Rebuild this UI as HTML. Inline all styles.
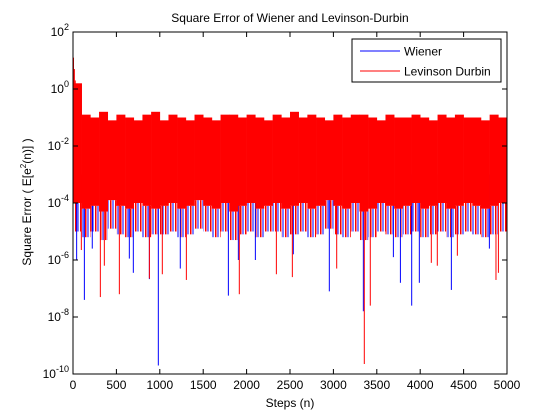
<!DOCTYPE html>
<html><head><meta charset="utf-8"><style>
body{margin:0;background:#fff;}
svg{display:block;font-family:"Liberation Sans",Arial,sans-serif;}
</style></head><body>
<svg id="chart" width="560" height="420">
<defs>
<pattern id="stripes" width="5" height="10" patternUnits="userSpaceOnUse">
<rect x="0" y="0" width="1.5" height="10" fill="#ff0000"/>
<rect x="2.5" y="0" width="1" height="10" fill="#0000ff"/>
</pattern>
</defs>
<rect width="560" height="420" fill="#fff"/>
<text x="290" y="22" font-size="12" text-anchor="middle">Square Error of Wiener and Levinson-Durbin</text>
<text x="290" y="407" font-size="12" text-anchor="middle">Steps (n)</text>
<text transform="translate(31,202) rotate(-90)" font-size="12" text-anchor="middle">Square Error ( E[e<tspan font-size="8" dy="-5">2</tspan><tspan dy="5">(n)] )</tspan></text>
<g id="marks"></g>
<g id="axes"></g>
<g>
<rect x="352" y="39" width="149" height="43" fill="#fff" stroke="#000"/>
<line x1="360" y1="51" x2="400" y2="51" stroke="#0000ff"/>
<text x="404" y="55.5" font-size="12">Wiener</text>
<line x1="360" y1="71" x2="400" y2="71" stroke="#ff0000"/>
<text x="404" y="75.5" font-size="12">Levinson Durbin</text>
</g>
</svg>
<script>
// bins of 100 steps: log10 of band top / core bottom
const binStarts = [0,100,200,300,400,500,600,700,800,900,1000,1100,1200,1300,1400,1500,1600,1700,1800,1900,2000,2100,2200,2300,2400,2500,2600,2700,2800,2900,3000,3100,3200,3300,3400,3500,3600,3700,3800,3900,4000,4100,4200,4300,4400,4500,4600,4700,4800,4900];
const redTop = [0.2,-0.9,-1.0,-0.8,-1.1,-0.9,-1.0,-1.1,-0.9,-0.8,-1.1,-0.9,-1.0,-1.1,-0.9,-1.0,-1.1,-0.9,-0.9,-1.0,-0.9,-1.0,-1.1,-0.9,-1.0,-0.8,-1.0,-0.9,-1.0,-1.1,-0.9,-1.0,-0.9,-0.9,-1.0,-1.1,-0.9,-1.0,-1.0,-0.9,-1.0,-1.1,-0.9,-1.0,-0.9,-1.0,-1.0,-1.1,-0.9,-1.0];
const coreLow = [-3.0,-3.3,-3.2,-3.4,-3.1,-3.3,-3.2,-3.3,-3.2,-3.1,-3.3,-3.2,-3.3,-3.2,-3.1,-3.2,-3.3,-3.2,-3.3,-3.1,-3.2,-3.3,-3.2,-3.3,-3.1,-3.2,-3.3,-3.2,-3.2,-3.3,-3.2,-3.1,-3.2,-3.3,-3.2,-3.3,-3.2,-3.1,-3.3,-3.2,-3.3,-3.2,-3.2,-3.3,-3.1,-3.2,-3.3,-3.2,-3.2,-3.3];
const fringeLow = [-4.0,-4.2,-4.1,-4.3,-3.9,-4.1,-4.2,-4.0,-4.1,-4.2,-4.1,-4.0,-4.2,-4.1,-3.9,-4.1,-4.2,-4.0,-4.3,-4.1,-4.0,-4.2,-4.1,-4.0,-4.2,-4.1,-4.0,-4.2,-4.1,-3.9,-4.1,-4.2,-4.0,-4.3,-4.2,-4.0,-4.1,-4.2,-4.1,-4.0,-4.2,-4.1,-4.0,-4.2,-4.1,-4.0,-4.1,-4.2,-4.1,-4.0];
const sparseLow = [-5.0,-5.2,-5.0,-5.3,-4.9,-5.1,-5.2,-5.0,-5.2,-5.1,-5.1,-5.0,-5.2,-5.1,-4.9,-5.0,-5.2,-5.0,-5.3,-5.1,-5.0,-5.2,-5.0,-5.0,-5.2,-5.1,-5.0,-5.2,-5.1,-4.9,-5.1,-5.2,-5.0,-5.3,-5.2,-5.0,-5.1,-5.2,-5.1,-5.0,-5.2,-5.1,-5.0,-5.2,-5.1,-5.0,-5.1,-5.2,-5.1,-5.0];
// deep individual spikes (step, log10 value)
const blueSpikeSteps = [42,131,222,649,695,880,983,1236,1790,1905,2101,2538,2953,3345,3691,3772,3902,3990,4359,4797];
const blueSpikeVals = [-6.0,-7.4,-5.6,-5.95,-6.45,-6.67,-9.7,-6.3,-7.25,-6.0,-6.0,-5.8,-7.1,-7.8,-5.9,-6.8,-7.6,-6.8,-7.05,-5.6];
const redSpikeSteps = [96,315,361,534,880,1029,1306,1916,2343,2527,3038,3356,3425,4128,4197,4428,4873,4901];
const redSpikeVals = [-5.65,-7.3,-6.2,-7.2,-6.65,-6.5,-6.7,-7.2,-6.5,-6.6,-6.3,-9.65,-7.6,-6.1,-6.2,-5.85,-6.7,-6.45];
const initSteps=[0,10,20,30,40,60,80];
const initVals=[1.1,0.7,0.3,0.0,-0.3,-0.6,-0.8];
const xTicks = [0,500,1000,1500,2000,2500,3000,3500,4000,4500,5000];
const yTickExps = [2,0,-2,-4,-6,-8,-10];

const L=73,R=507,T=32,B=374;
const sx = s => L + s/5000*(R-L);
const sy = e => T + (2-e)/12*(B-T);
const NS='http://www.w3.org/2000/svg';
const marks=document.getElementById('marks'), axes=document.getElementById('axes');
function mk(tag,attrs,parent){const el=document.createElementNS(NS,tag);for(const k in attrs)el.setAttribute(k,attrs[k]);parent.appendChild(el);return el;}

binStarts.forEach((s,i)=>{
  const x0=sx(s), x1=sx(s+100);
  const r=mk('rect',{x:x0,y:sy(fringeLow[i]),width:x1-x0,height:sy(sparseLow[i])-sy(fringeLow[i]),fill:'url(#stripes)'},marks);
  
  
});
blueSpikeSteps.forEach((s,i)=>{
  const l=mk('line',{x1:sx(s),x2:sx(s),y1:sy(-3),y2:sy(blueSpikeVals[i]),stroke:'#0000ff','stroke-width':1},marks);
  
  
});
redSpikeSteps.forEach((s,i)=>{
  const l=mk('line',{x1:sx(s),x2:sx(s),y1:sy(-3),y2:sy(redSpikeVals[i]),stroke:'#ff0000','stroke-width':1},marks);
  
  
});
binStarts.forEach((s,i)=>{
  const x0=sx(s), x1=sx(s+100);
  const r=mk('rect',{x:x0,y:sy(redTop[i]),width:x1-x0+0.3,height:sy(fringeLow[i])-sy(redTop[i]),fill:'#ff0000'},marks);
  
  
});
initSteps.forEach((s,i)=>{
  const r=mk('rect',{x:sx(s),y:sy(initVals[i]),width:Math.max(1,sx(s+10)-sx(s)),height:sy(-2)-sy(initVals[i]),fill:'#ff0000'},marks);
  
  
});

const box=mk('rect',{x:L,y:T,width:R-L,height:B-T,fill:'none',stroke:'#000'},axes);


xTicks.forEach(v=>{
  const x=sx(v);
  const t=mk('path',{d:`M${x},${B}v-5M${x},${T}v5`,stroke:'#000'},axes);
  
  
  const lb=mk('text',{x:x,y:B+15,'font-size':12,'text-anchor':'middle'},axes);
  lb.textContent=v;
  
  
});
yTickExps.forEach(e=>{
  const y=sy(e);
  const t=mk('path',{d:`M${L},${y}h5M${R},${y}h-5`,stroke:'#000'},axes);
  
  
  const lb=mk('text',{x:L-4,y:y+4,'font-size':12,'text-anchor':'end'},axes);
  const a=document.createElementNS(NS,'tspan');a.textContent='10';lb.appendChild(a);
  const b=document.createElementNS(NS,'tspan');b.textContent=String(e);b.setAttribute('font-size','9');b.setAttribute('dy','-6');lb.appendChild(b);
  
  
});
</script>
</body></html>
